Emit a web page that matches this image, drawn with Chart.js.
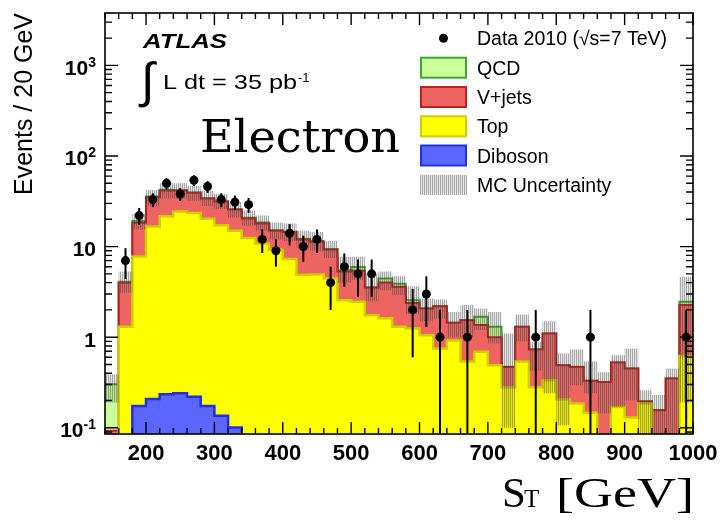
<!DOCTYPE html>
<html>
<head>
<meta charset="utf-8">
<script src="https://cdn.jsdelivr.net/npm/chart.js@4.4.0/dist/chart.umd.min.js"></script>
<style>
  html, body { margin: 0; padding: 0; background: #fff; }
  #wrap { width: 722px; height: 526px; }
</style>
</head>
<body>
<div id="wrap"><canvas id="chart" width="722" height="526"></canvas></div>
<script>
// bins of 20 GeV, lower edges; the last bin ends at X_MAX
const binLow = [140, 160, 180, 200, 220, 240, 260, 280, 300, 320, 340, 360, 380, 400, 420,
                440, 460, 480, 500, 520, 540, 560, 580, 600, 620, 640, 660, 680, 700, 720,
                740, 760, 780, 800, 820, 840, 860, 880, 900, 920, 940, 960, 980];
const X_MIN = 140, X_MAX = 1000;
const Y_MIN = 0.0854, Y_MAX = 3785;

// MC components (events / 20 GeV), stacked Diboson -> Top -> V+jets -> QCD
const diboson = [0.01, 0.06, 0.174, 0.208, 0.234, 0.24, 0.22, 0.174, 0.136, 0.101, 0.07, 0.06, 0.05, 0.045, 0.04,
                 0.035, 0.03, 0.025, 0.02, 0.02, 0.015, 0.01, 0.01, 0.01, 0.01, 0.01, 0.01, 0.01, 0.01, 0.01,
                 0.01, 0.01, 0.01, 0.01, 0.01, 0.01, 0.01, 0.01, 0.01, 0.01, 0.01, 0.01, 0.01];
const topQuark = [0.02, 1.24, 7.6, 16.4, 21.4, 24.1, 23.2, 20.1, 17.1, 14.9, 12.4, 10.7, 9.15, 7.25, 4.86,
                  4.87, 4.42, 2.53, 2.44, 1.73, 1.6, 1.29, 1.24, 1.04, 0.74, 0.91, 0.53, 0.68, 0.48, 0.27,
                  0.53, 0.27, 0.325, 0.195, 0.175, 0.137, 0.02, 0.16, 0.12, 0.175, 0.02, 0.02, 0.61];
const vjets = [0.063, 2.7, 10.5, 18.4, 19.9, 17.2, 15.8, 13.7, 14.3, 10.7, 8.0, 7.2, 5.8, 7.2, 7.1,
               6.4, 4.85, 2.74, 2.94, 1.79, 2.39, 2.3, 1.14, 1.02, 1.45, 0.52, 1.0, 0.67, 0.51, 0.19,
               0.76, 0.45, 0.765, 0.285, 0.285, 0.183, 0.29, 0.355, 0.32, 0.01, 0.126, 0.32, 1.64];
const qcd = [0.21, 0.1, 0.9, 0.8, 0.8, 0.4, 0.2, 0.2, 0.2, 0.2, 0.3, 0.5, 0.1, 0.1, 0.2,
             0.2, 0.1, 0.2, 0.55, 0.001, 0.45, 0.3, 0.17, 0.001, 0.001, 0.001, 0.001, 0.32, 0.3, 0.001,
             0.001, 0.001, 0.001, 0.001, 0.001, 0.001, 0.001, 0.001, 0.001, 0.001, 0.001, 0.001, 0.2];

// MC uncertainty band edges
const mcHigh = [0.39, 5.3, 23, 42, 50, 50, 47, 41, 38, 31, 25, 22, 18.5, 18, 15,
                14.5, 11.5, 7.7, 7.7, 5.0, 5.3, 4.7, 3.66, 2.68, 2.6, 1.9, 2.26, 2.07, 1.9, 1.1,
                1.78, 0.89, 1.5, 0.66, 0.73, 0.54, 0.41, 0.63, 0.75, 0.26, 0.23, 0.45, 4.64];
const mcLow = [0.19, 3.1, 15.5, 28, 34, 34, 32, 28, 26, 21, 17, 15, 12, 11.5, 9.5,
               9, 7.5, 4.0, 4.3, 2.5, 3.3, 2.9, 1.8, 1.5, 1.6, 1.0, 1.0, 1.2, 0.85, 0.1,
               0.9, 0.43, 0.24, 0.107, 0.295, 0.24, 0.145, 0.17, 0.2, 0.07, 0.07, 0.07, 0.19];

// Data 2010, counts and error bar half-lengths (0 = no entry)
const dataCounts = [0, 7, 22, 33, 50, 38, 54, 46, 33, 31, 29, 12, 9, 14, 10,
                    12, 4, 6, 5, 5, 0, 0, 2, 3, 1, 0, 1, 0, 0, 0,
                    0, 1, 0, 0, 0, 1, 0, 0, 0, 0, 0, 0, 1];
const dataErr = [0, 2.6, 4.7, 5.7, 7.1, 6.2, 7.3, 6.8, 5.7, 5.6, 5.4, 3.5, 3.0, 3.7, 3.2,
                 3.5, 2.0, 2.4, 2.2, 2.2, 0, 0, 1.4, 1.7, 1.0, 0, 1.0, 0, 0, 0,
                 0, 1.0, 0, 0, 0, 1.0, 0, 0, 0, 0, 0, 0, 1.0];

// axis ticks
const xTickValues = [200, 300, 400, 500, 600, 700, 800, 900, 1000];
const xTickLabels = ['200', '300', '400', '500', '600', '700', '800', '900', '1000'];
const yTickValues = [0.1, 1, 10, 100, 1000];
const yTickBase = ['10', '1', '10', '10', '10'];
const yTickExp = ['-1', '', '', '2', '3'];

const legendItems = [
  { label: 'QCD', fill: '#ccff99', line: '#3fa535' },
  { label: 'V+jets', fill: '#ee6461', line: '#c0201e' },
  { label: 'Top', fill: '#ffff00', line: '#cece00' },
  { label: 'Diboson', fill: '#5a66ff', line: '#2030e0' }
];

const SANS = '"Liberation Sans", Arial, sans-serif';
const SERIF = '"Liberation Serif", "Times New Roman", serif';


function binEdge(i) {
  return i + 1 < binLow.length ? binLow[i + 1] : X_MAX;
}

function steps(values) {
  const pts = binLow.map((x, i) => ({ x: x, y: values[i] }));
  pts.push({ x: X_MAX, y: values[values.length - 1] });
  return pts;
}

function hatchPattern(ctx) {
  const c = document.createElement('canvas');
  c.width = 2;
  c.height = 2;
  const g = c.getContext('2d');
  g.fillStyle = 'rgba(60,60,60,0.45)';
  g.fillRect(0, 0, 1, 2);
  g.fillStyle = 'rgba(130,130,130,0.2)';
  g.fillRect(1, 0, 1, 2);
  return ctx.createPattern(c, 'repeat');
}

const cumTop = diboson.map((v, i) => v + topQuark[i]);
const cumVjets = cumTop.map((v, i) => v + vjets[i]);
const cumQcd = cumVjets.map((v, i) => v + qcd[i]);

const dataPoints = [];
dataCounts.forEach((n, i) => {
  if (n > 0) dataPoints.push({ x: (binLow[i] + binEdge(i)) / 2, y: n });
});

const canvas = document.getElementById('chart');
const hatch = hatchPattern(canvas.getContext('2d'));

function stepSet(label, values, line, fill, fillMode, width) {
  return {
    label: label,
    data: steps(values),
    stepped: true,
    borderColor: line,
    borderWidth: width,
    backgroundColor: fill,
    fill: fillMode,
    pointRadius: 0
  };
}


function drawStretched(ctx, str, x, y, font, width) {
  ctx.font = font;
  const w = ctx.measureText(str).width;
  ctx.save();
  ctx.translate(x, y);
  ctx.scale(width / w, 1);
  ctx.textAlign = 'left';
  ctx.fillText(str, 0, 0);
  ctx.restore();
}

const decorations = {
  id: 'decorations',

  afterDatasetsDraw(chart) {
    const ctx = chart.ctx;
    const xs = chart.scales.x, ys = chart.scales.y, area = chart.chartArea;
    ctx.save();
    ctx.strokeStyle = '#000';
    ctx.lineWidth = 2;
    dataCounts.forEach((n, i) => {
      if (!n) return;
      const cx = xs.getPixelForValue((binLow[i] + binEdge(i)) / 2);
      const lo = n - dataErr[i];
      const yTop = Math.max(ys.getPixelForValue(n + dataErr[i]), area.top);
      const yBot = lo > Y_MIN ? ys.getPixelForValue(lo) : area.bottom;
      ctx.beginPath();
      ctx.moveTo(cx, yTop);
      ctx.lineTo(cx, yBot);
      ctx.stroke();
    });
    ctx.restore();
  },

  afterDraw(chart) {
    const ctx = chart.ctx;
    const xs = chart.scales.x, ys = chart.scales.y, area = chart.chartArea;
    ctx.save();

    // frame
    ctx.strokeStyle = '#000';
    ctx.lineWidth = 1.6;
    ctx.strokeRect(area.left, area.top, area.right - area.left, area.bottom - area.top);

    // x ticks, minor at every bin edge, major at labels
    ctx.lineWidth = 1.4;
    ctx.beginPath();
    binLow.concat([X_MAX]).forEach(v => {
      const px = xs.getPixelForValue(v);
      const len = xTickValues.includes(v) ? 12 : 6;
      ctx.moveTo(px, area.bottom); ctx.lineTo(px, area.bottom - len);
      ctx.moveTo(px, area.top); ctx.lineTo(px, area.top + len);
    });
    // y ticks, log decades with 2..9 minors
    for (let d = -2; d <= 3; d++) {
      for (let m = 1; m <= 9; m++) {
        const v = m * Math.pow(10, d);
        if (v < Y_MIN || v > Y_MAX) continue;
        const py = ys.getPixelForValue(v);
        const len = m === 1 ? 13 : 7;
        ctx.moveTo(area.left, py); ctx.lineTo(area.left + len, py);
        ctx.moveTo(area.right, py); ctx.lineTo(area.right - len, py);
      }
    }
    ctx.stroke();

    ctx.fillStyle = '#000';
    // x tick labels
    ctx.font = 'bold 22px ' + SANS;
    ctx.textAlign = 'center';
    ctx.textBaseline = 'alphabetic';
    xTickValues.forEach((v, i) => {
      ctx.fillText(xTickLabels[i], xs.getPixelForValue(v), 460);
    });

    // y tick labels with exponent
    yTickValues.forEach((v, i) => {
      const py = ys.getPixelForValue(v) + 9.5;
      ctx.font = 'bold 14px ' + SANS;
      const ew = yTickExp[i] ? ctx.measureText(yTickExp[i]).width : 0;
      const right = 96;
      ctx.textAlign = 'left';
      if (ew) ctx.fillText(yTickExp[i], right - ew, py - 8);
      ctx.font = 'bold 21px ' + SANS;
      ctx.textAlign = 'right';
      ctx.fillText(yTickBase[i], right - ew, py);
    });

    // axis titles
    ctx.save();
    ctx.translate(32, 13);
    ctx.rotate(-Math.PI / 2);
    ctx.font = '25px ' + SANS;
    ctx.textAlign = 'right';
    ctx.fillText('Events / 20 GeV', 0, 0);
    ctx.restore();

    ctx.textAlign = 'left';
    ctx.font = '43px ' + SERIF;
    ctx.fillText('S', 502, 507);
    ctx.font = '25px ' + SERIF;
    ctx.fillText('T', 524, 507);
    drawStretched(ctx, '[GeV]', 556, 507, '43px ' + SERIF, 138);

    // ATLAS label and luminosity
    drawStretched(ctx, 'ATLAS', 143, 48, 'italic bold 21px ' + SANS, 84);
    ctx.font = '48px ' + SANS;
    let m = ctx.measureText('\u222B');
    const intSize = 48 * 48 / (m.actualBoundingBoxAscent + m.actualBoundingBoxDescent);
    ctx.font = intSize + 'px ' + SANS;
    m = ctx.measureText('\u222B');
    ctx.fillText('\u222B', 138 + m.actualBoundingBoxLeft, 60 + m.actualBoundingBoxAscent);
    drawStretched(ctx, 'L dt = 35 pb', 163, 89, '21px ' + SANS, 134);
    ctx.font = '13px ' + SANS;
    ctx.fillText('-1', 298, 82);

    drawStretched(ctx, 'Electron', 200, 152, '45px "DejaVu Serif", ' + SERIF, 200);

    // legend
    ctx.beginPath();
    ctx.arc(443.5, 38.3, 4.5, 0, Math.PI * 2);
    ctx.fill();
    ctx.font = '19.5px ' + SANS;
    ctx.fillText('Data 2010 (\u221As=7 TeV)', 477, 45);
    const rowY = [67.7, 97, 126.3, 155.5];
    legendItems.forEach((it, i) => {
      const y0 = rowY[i] - 10;
      ctx.fillStyle = it.fill;
      ctx.fillRect(421, y0, 45, 20);
      ctx.strokeStyle = it.line;
      ctx.lineWidth = 2;
      ctx.strokeRect(421, y0, 45, 20);
      ctx.fillStyle = '#000';
      ctx.font = '19.5px ' + SANS;
      ctx.fillText(it.label, 477, rowY[i] + 7);
    });
    ctx.fillStyle = hatch;
    ctx.fillRect(420, 175, 47, 20);
    ctx.fillStyle = '#000';
    ctx.fillText('MC Uncertainty', 477, 192);

    ctx.restore();
  }
};

new Chart(canvas, {
  type: 'line',
  data: {
    datasets: [
      {
        label: 'Data 2010',
        data: dataPoints,
        showLine: false,
        pointRadius: 4.5,
        pointBackgroundColor: '#000',
        pointBorderColor: '#000',
        pointBorderWidth: 0
      },
      {
        label: 'MC Uncertainty',
        data: steps(mcHigh),
        stepped: true,
        borderColor: 'rgba(0,0,0,0)',
        borderWidth: 0,
        backgroundColor: hatch,
        fill: '+1',
        pointRadius: 0
      },
      {
        label: 'MC low',
        data: steps(mcLow),
        stepped: true,
        borderColor: 'rgba(0,0,0,0)',
        borderWidth: 0,
        fill: false,
        pointRadius: 0
      },
      stepSet('Diboson', diboson, '#2030e0', '#5a66ff', 'origin', 2.5),
      stepSet('Top', cumTop, '#cece00', '#ffff00', '-1', 2.5),
      stepSet('V+jets', cumVjets, '#b81c1c', '#ee6461', '-1', 2),
      stepSet('QCD', cumQcd, '#3fa535', '#ccff99', '-1', 2)
    ]
  },
  options: {
    responsive: false,
    animation: false,
    events: [],
    layout: { padding: { left: 105, top: 13, right: 29, bottom: 92 } },
    plugins: {
      legend: { display: false },
      tooltip: { enabled: false }
    },
    scales: {
      x: { type: 'linear', min: X_MIN, max: X_MAX, display: false },
      y: { type: 'logarithmic', min: Y_MIN, max: Y_MAX, display: false }
    }
  },
  plugins: [decorations]
});
</script>
</body>
</html>
